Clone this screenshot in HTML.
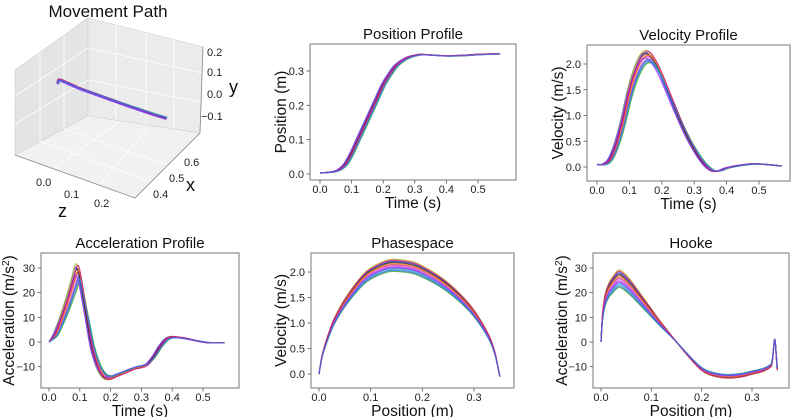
<!DOCTYPE html>
<html><head><meta charset="utf-8"><style>
html,body{margin:0;padding:0;background:#fff;}
svg{display:block;font-family:"Liberation Sans","DejaVu Sans",sans-serif;}
</style></head><body>
<svg id="fig" width="793" height="417" viewBox="0 0 793 417" xmlns="http://www.w3.org/2000/svg">
<g>
  <text x="108" y="17" font-size="17" text-anchor="middle" fill="#111">Movement Path</text>
  <polygon points="15,70 88,18 88,116 15,155" fill="#e4e4e4" stroke="#d0d0d0" stroke-width="0.6"/>
  <polygon points="88,18 203,47 200,133 88,116" fill="#ebebeb" stroke="#d0d0d0" stroke-width="0.6"/>
  <polygon points="15,155 88,116 200,133 135,198" fill="#f1f1f1" stroke="#d0d0d0" stroke-width="0.6"/>
  <g stroke="#fff" stroke-width="0.8">
    <line x1="40" y1="52" x2="40" y2="141"/><line x1="64" y1="35" x2="64" y2="129"/>
    <line x1="116" y1="25" x2="116" y2="120"/><line x1="146" y1="33" x2="146" y2="125"/><line x1="174" y1="40" x2="174" y2="129"/>
    <line x1="15" y1="96" x2="88" y2="48"/><line x1="15" y1="124" x2="88" y2="80"/>
    <line x1="88" y1="48" x2="202" y2="73"/><line x1="88" y1="80" x2="201" y2="102"/>
    <line x1="40" y1="141" x2="160" y2="185"/><line x1="64" y1="129" x2="182" y2="170"/>
    <line x1="55" y1="168" x2="120" y2="121"/><line x1="100" y1="184" x2="150" y2="126"/>
  </g>
  <line x1="15" y1="155" x2="135" y2="198" stroke="#888" stroke-width="0.8"/>
  <line x1="135" y1="198" x2="200" y2="133" stroke="#888" stroke-width="0.8"/>
  <line x1="203" y1="47" x2="200" y2="133" stroke="#888" stroke-width="0.8"/>
  <g id="traj3d"></g>
  <g font-size="11" fill="#222">
    <text x="207" y="56">0.2</text><text x="207" y="76">0.1</text><text x="207" y="98">0.0</text><text x="201" y="120">−0.1</text>
    <text x="184" y="166">0.6</text><text x="169" y="182">0.5</text><text x="153" y="198">0.4</text>
    <text x="36" y="186">0.0</text><text x="64" y="198">0.1</text><text x="94" y="207">0.2</text>
  </g>
  <text x="229" y="93" font-size="18" fill="#111">y</text>
  <text x="186" y="191" font-size="18" fill="#111">x</text>
  <text x="58" y="217" font-size="18" fill="#111">z</text>
</g>
<g id="charts"></g>
</svg>
<script>
// ---- data ----
const velT=[0,0.02,0.04,0.06,0.08,0.10,0.12,0.14,0.16,0.18,0.20,0.22,0.24,0.26,0.28,0.30,0.32,0.34,0.36,0.38,0.40,0.44,0.48,0.52,0.57];
const velV=[0.05,0.05,0.15,0.45,0.9,1.45,1.85,2.1,2.15,2.0,1.75,1.45,1.15,0.85,0.58,0.35,0.15,0.0,-0.08,-0.07,-0.02,0.03,0.06,0.05,0.02];
const posT=[0,0.04,0.06,0.08,0.10,0.12,0.14,0.16,0.18,0.20,0.22,0.24,0.26,0.28,0.30,0.32,0.36,0.40,0.45,0.50,0.57];
const posV=[0.003,0.006,0.012,0.028,0.06,0.10,0.14,0.18,0.22,0.26,0.29,0.315,0.33,0.34,0.345,0.348,0.346,0.344,0.345,0.348,0.35];
const accT=[0,0.02,0.04,0.06,0.08,0.09,0.10,0.12,0.14,0.16,0.18,0.20,0.22,0.24,0.26,0.28,0.30,0.32,0.34,0.36,0.38,0.40,0.44,0.48,0.52,0.57];
const accV=[0,3,9,16,24,28,26,12,-2,-10,-14,-14.5,-13.5,-12.5,-11.5,-10.5,-10,-9,-6,-2,1,2,1.5,0.5,-0.3,-0.3];
const phP=[0,0.005,0.01,0.02,0.03,0.05,0.08,0.1,0.13,0.15,0.18,0.2,0.23,0.26,0.29,0.31,0.33,0.34,0.345,0.348,0.35];
const phV=[0,0.3,0.5,0.8,1.05,1.4,1.8,1.98,2.12,2.14,2.1,2.02,1.85,1.62,1.32,1.05,0.7,0.42,0.2,0.05,-0.05];
const hkP=[0,0.003,0.008,0.015,0.025,0.035,0.045,0.06,0.08,0.1,0.12,0.15,0.18,0.2,0.22,0.25,0.28,0.3,0.32,0.335,0.34,0.345,0.348,0.35];
const hkA=[0,10,17,21,24,26,25,22,17,12,7,0,-7,-11,-13,-14,-13.5,-12.5,-11.5,-10,-8,1,-5,-11];
const trX=[0.4,0.402,0.41,0.43,0.47,0.52,0.57,0.62,0.67,0.71,0.75];
const trY=[0.05,0.066,0.068,0.062,0.05,0.04,0.03,0.02,0.012,0.005,0];
const trZ=[-0.02,-0.02,-0.015,-0.005,0.01,0.03,0.05,0.07,0.09,0.105,0.12];
const trialAmp=[1.03,0.97,1.0,0.94,1.05,0.99,1.02,0.96,1.01,0.98,1.04,0.95];
const trialShift=[-0.006,0.004,0,0.008,-0.004,0.002,-0.002,0.006,0.003,-0.005,0.001,0.005];
const timeTicks=[0,0.1,0.2,0.3,0.4,0.5];
const posTicks=[0,0.1,0.2,0.3];
const velTicks=[0,0.5,1.0,1.5,2.0];
const accTicks=[-10,0,10,20,30];
const colors=["#1f3fd0","#8a2be2","#d0209f","#2ca02c","#b8b020","#e377c2","#222222","#17becf","#ff7f0e","#9b30ff","#c71585","#4169e1"];

const NS="http://www.w3.org/2000/svg";
function mk(tag,attrs,parent){const e=document.createElementNS(NS,tag);for(const k in attrs)e.setAttribute(k,attrs[k]);if(parent)parent.appendChild(e);return e;}
function smooth(pts){
  let d="M"+pts[0][0].toFixed(1)+","+pts[0][1].toFixed(1);
  for(let i=0;i<pts.length-1;i++){
    const p0=pts[i-1]||pts[i],p1=pts[i],p2=pts[i+1],p3=pts[i+2]||p2;
    const c1=[p1[0]+(p2[0]-p0[0])/6,p1[1]+(p2[1]-p0[1])/6],c2=[p2[0]-(p3[0]-p1[0])/6,p2[1]-(p3[1]-p1[1])/6];
    d+="C"+c1[0].toFixed(1)+","+c1[1].toFixed(1)+" "+c2[0].toFixed(1)+","+c2[1].toFixed(1)+" "+p2[0].toFixed(1)+","+p2[1].toFixed(1);
  }
  return d;
}
function fmt(v,dec){const s=v.toFixed(dec);return s.replace("-","−");}

// 3D trajectory
const g3=document.getElementById("traj3d");
function proj(x,y,z){return [63.5+200*(x-0.4)+275*z, 97+20*(x-0.4)+120*z-220*y];}
trialAmp.forEach((a,k)=>{
  const pts=trX.map((x,i)=>proj(x,trY[i]*a+trialShift[k]*0.6,trZ[i]+trialShift[k]*0.3));
  const p=mk("path",{d:smooth(pts),fill:"none",stroke:colors[k],"stroke-width":1.8,"stroke-opacity":0.85},g3);
  
  
});

function chart(c){
  const root=document.getElementById("charts");
  const g=mk("g",{},root);
  
  
  const sx=v=>c.xp0+(v-c.xv0)*(c.xp1-c.xp0)/(c.xv1-c.xv0);
  const sy=v=>c.yp0+(v-c.yv0)*(c.yp1-c.yp0)/(c.yv1-c.yv0);
  mk("rect",{x:c.l,y:c.t,width:c.r-c.l,height:c.b-c.t,fill:"#fff"},g);
  const lines=mk("g",{},g);
  
  
  trialAmp.forEach((a,k)=>{
    const pts=c.xs.map((x,i)=>[sx(c.xf(x,k)),sy(c.yf(c.ys[i],a,k))]);
    const p=mk("path",{d:smooth(pts),fill:"none",stroke:colors[k],"stroke-width":1.2,"stroke-opacity":0.8},lines);
    
    
  });
  mk("rect",{x:c.l,y:c.t,width:c.r-c.l,height:c.b-c.t,fill:"none",stroke:"#777","stroke-width":1},g);
  c.xticks.forEach(v=>{
    const x=sx(v);
    mk("line",{x1:x,y1:c.b,x2:x,y2:c.b+3.5,stroke:"#555","stroke-width":0.8},g);
    const t=mk("text",{x:x,y:c.b+13,"font-size":11,"text-anchor":"middle",fill:"#222"},g);
    t.textContent=fmt(v,c.xdec);
    
    
  });
  c.yticks.forEach(v=>{
    const y=sy(v);
    mk("line",{x1:c.l-3.5,y1:y,x2:c.l,y2:y,stroke:"#555","stroke-width":0.8},g);
    const t=mk("text",{x:c.l-6,y:y+4,"font-size":11,"text-anchor":"end",fill:"#222"},g);
    t.textContent=fmt(v,c.ydec);
    
    
  });
  const ti=mk("text",{x:(c.l+c.r)/2,y:c.t-5,"font-size":15,"text-anchor":"middle",fill:"#111"},g);
  ti.textContent=c.title;
  
  
  const xl=mk("text",{x:(c.l+c.r)/2,y:c.b+28,"font-size":15.5,"text-anchor":"middle",fill:"#111"},g);
  xl.textContent=c.xlabel;
  
  
  const yc=(c.t+c.b)/2;
  const yl=mk("text",{x:c.ylx,y:yc,"font-size":15.5,"text-anchor":"middle",fill:"#111",transform:"rotate(-90 "+c.ylx+" "+yc+")"},g);
  
  
  if(c.sup){
    yl.appendChild(document.createTextNode("Acceleration (m/s"));
    const sp=mk("tspan",{"baseline-shift":"super","font-size":10},yl);sp.textContent="2";
    yl.appendChild(document.createTextNode(")"));
  } else yl.textContent=c.ylabel;
}
const tShift=(x,k)=>x+(x>0?trialShift[k]:0);
const pShift=(x,k)=>x;
chart({name:"position-profile",title:"Position Profile",xlabel:"Time (s)",ylabel:"Position (m)",ylx:286,
  l:310,r:516,t:44,b:180,xv0:0,xp0:320,xv1:0.5,xp1:478,yv0:0,yp0:174,yv1:0.3,yp1:71,
  xticks:timeTicks,yticks:posTicks,xdec:1,ydec:1,xs:posT,ys:posV,
  xf:(x,k)=>Math.min(0.57,tShift(x,k)),yf:(v,a,k)=>v*(1+(a-1)*0.03)});
chart({name:"velocity-profile",title:"Velocity Profile",xlabel:"Time (s)",ylabel:"Velocity (m/s)",ylx:563,
  l:587,r:790,t:45,b:181,xv0:0,xp0:597,xv1:0.5,xp1:759,yv0:0,yp0:167,yv1:2.0,yp1:64,
  xticks:timeTicks,yticks:velTicks,xdec:1,ydec:1,xs:velT,ys:velV,
  xf:(x,k)=>Math.min(0.57,tShift(x,k)),yf:(v,a,k)=>v*a});
chart({name:"acceleration-profile",title:"Acceleration Profile",xlabel:"Time (s)",sup:true,ylx:14,
  l:41,r:239,t:253,b:388,xv0:0,xp0:49,xv1:0.5,xp1:203,yv0:0,yp0:342,yv1:30,yp1:268,
  xticks:timeTicks,yticks:accTicks,xdec:1,ydec:0,xs:accT,ys:accV,
  xf:(x,k)=>Math.min(0.57,tShift(x,k)),yf:(v,a,k)=>v*(v>0?(1+(a-1)*2.5):a)});
chart({name:"phasespace",title:"Phasespace",xlabel:"Position (m)",ylabel:"Velocity (m/s)",ylx:286,
  l:311,r:514,t:253,b:388,xv0:0,xp0:319,xv1:0.3,xp1:474,yv0:0,yp0:374,yv1:2.0,yp1:272,
  xticks:posTicks,yticks:velTicks,xdec:1,ydec:1,xs:phP,ys:phV,
  xf:pShift,yf:(v,a,k)=>v*a});
chart({name:"hooke",title:"Hooke",xlabel:"Position (m)",sup:true,ylx:567,
  l:593,r:789,t:253,b:388,xv0:0,xp0:601,xv1:0.3,xp1:752,yv0:0,yp0:342,yv1:30,yp1:268,
  xticks:posTicks,yticks:accTicks,xdec:1,ydec:0,xs:hkP,ys:hkA,
  xf:pShift,yf:(v,a,k)=>v*(v>0?(1+(a-1)*2.5):a)});
</script>
</body></html>
